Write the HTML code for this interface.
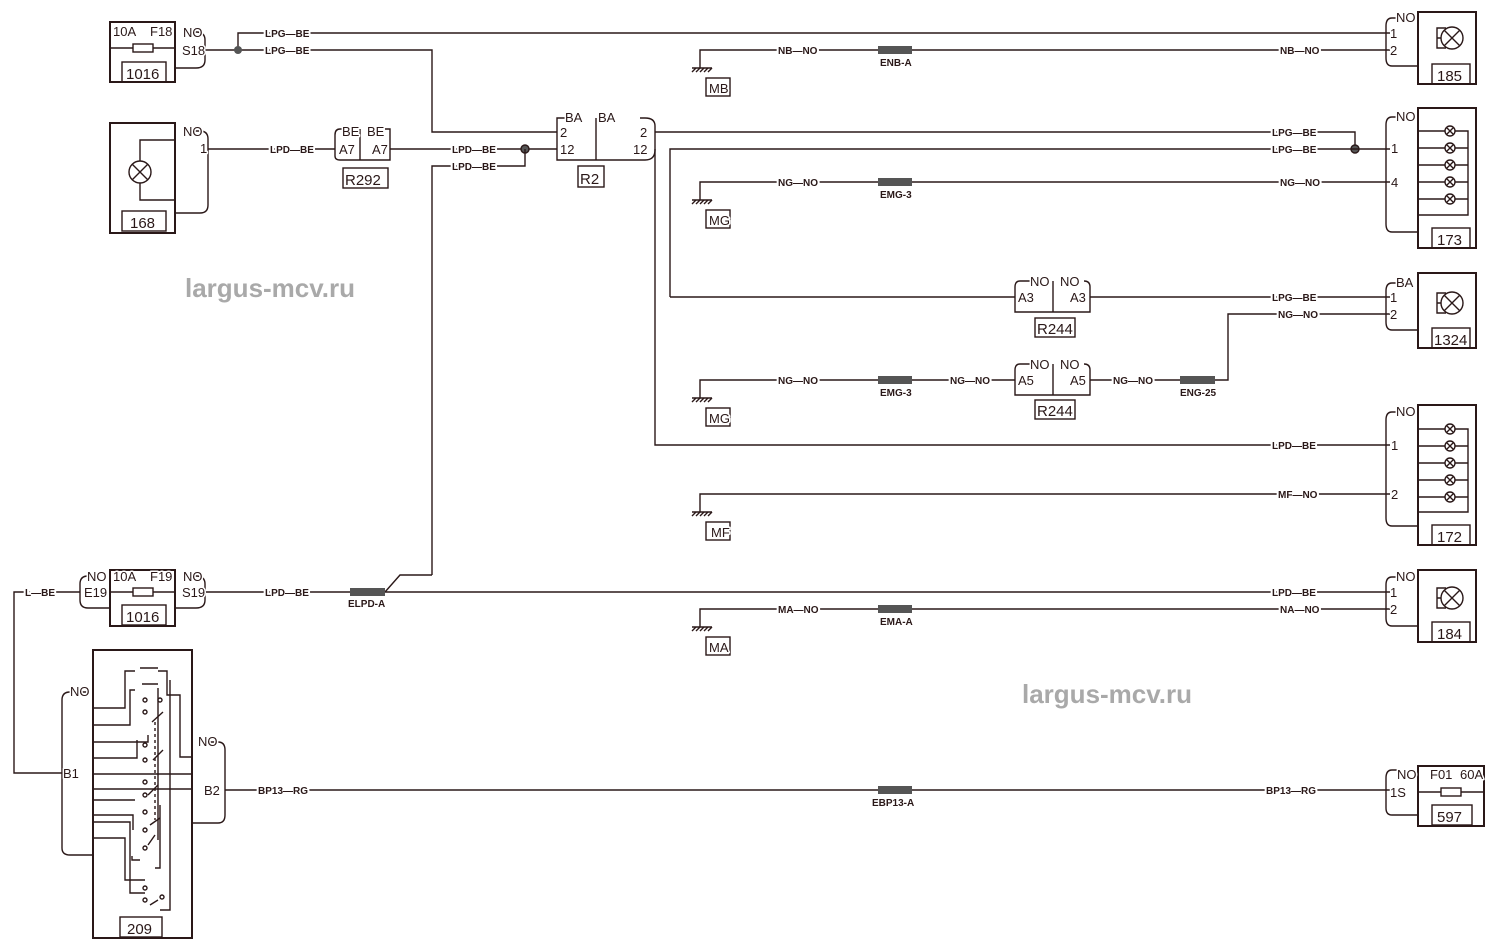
<!DOCTYPE html>
<html><head><meta charset="utf-8"><style>
html,body{margin:0;padding:0;background:#fff}
svg{display:block}
text{font-family:"Liberation Sans",sans-serif;fill:#2a1818}
.s{font-size:10px;font-weight:bold;paint-order:stroke;stroke:#fff;stroke-width:4px;stroke-linejoin:round}
.m{font-size:13px;paint-order:stroke;stroke:#fff;stroke-width:3px;stroke-linejoin:round}
.b{font-size:15px}
.w{font-size:26px;font-weight:bold;fill:#a9a9a9}
</style></head><body>
<svg width="1487" height="952" viewBox="0 0 1487 952" xmlns="http://www.w3.org/2000/svg">
<g fill="none" stroke="#2a1818" stroke-width="1.4">
<rect x="110" y="22" width="65" height="60" stroke-width="2"/>
<line x1="110" y1="48" x2="175" y2="48"/><rect x="133" y="44" width="20" height="8" fill="#fff"/>
<rect x="122" y="62" width="44" height="20"/>
<path d="M183 32 H196 Q205 32 205 40 V60 Q205 68 196 68 H175"/>
<path d="M205 50 H238 V33 H1390"/>
<path d="M238 50 H432 V132 H557"/>
<path d="M1400 18 H1392 Q1386 18 1386 26 V58 Q1386 66 1392 66 H1418"/>
<rect x="1418" y="12" width="58" height="72" stroke-width="2"/>
<rect x="1432" y="64" width="38" height="20"/>
<circle cx="1452" cy="38" r="11"/><path d="M1444 30 L1460 46 M1460 30 L1444 46"/>
<path d="M1441 38 H1437 V28 H1446 M1437 38 V48 H1446"/>
<path d="M708 50 H1390"/>
<rect x="110" y="123" width="65" height="110" stroke-width="2"/>
<rect x="122" y="211" width="44" height="20"/>
<circle cx="140" cy="172" r="11"/><path d="M132 164 L148 180 M148 164 L132 180"/>
<path d="M140 161 V140 H175 M140 183 V200 H175"/>
<path d="M183 131 H200 Q208 131 208 139 V205 Q208 213 200 213 H175"/>
<path d="M208 149 H335"/>
<path d="M345 129 H340 Q335 129 335 135 V156 Q335 160 340 160 H390 V129 H385"/>
<line x1="360" y1="129" x2="360" y2="160"/>
<rect x="343" y="168" width="45" height="20"/>
<path d="M390 149 H557"/>
<circle cx="525" cy="149" r="4" fill="#555"/>
<path d="M432 575 V166 H525 V149"/>
<path d="M566 118 H557 V160 H645 Q655 160 655 150 V126 Q655 118 645 118 H640"/>
<line x1="596" y1="118" x2="596" y2="160"/>
<rect x="578" y="166" width="26" height="21"/>
<path d="M655 132 H1355 V149"/>
<circle cx="1355" cy="149" r="4" fill="#555"/>
<path d="M670 297 V149 H1390"/>
<path d="M655 149 V445 H1390"/>
<path d="M1400 117 H1392 Q1386 117 1386 125 V224 Q1386 232 1392 232 H1418"/>
<rect x="1418" y="108" width="58" height="140" stroke-width="2"/>
<rect x="1432" y="228" width="38" height="20"/>
<path d="M1418 131 H1468 V215 H1418 M1418 148 H1468 M1418 165 H1468 M1418 182 H1468 M1418 199 H1468"/>
<g fill="#fff"><circle cx="1450" cy="131" r="5"/><circle cx="1450" cy="148" r="5"/><circle cx="1450" cy="165" r="5"/><circle cx="1450" cy="182" r="5"/><circle cx="1450" cy="199" r="5"/></g>
<path d="M1447 128l6 6m0-6l-6 6M1447 145l6 6m0-6l-6 6M1447 162l6 6m0-6l-6 6M1447 179l6 6m0-6l-6 6M1447 196l6 6m0-6l-6 6"/>
<path d="M708 182 H1390"/>
<path d="M670 297 H1015"/>
<path d="M1030 281 H1020 Q1015 281 1015 287 V312 H1090 V287 Q1090 281 1084 281"/>
<line x1="1053" y1="281" x2="1053" y2="312"/>
<rect x="1035" y="318" width="40" height="19"/>
<path d="M1090 297 H1390"/>
<path d="M1215 380 H1228 V314 H1390"/>
<path d="M1400 283 H1392 Q1386 283 1386 291 V322 Q1386 330 1392 330 H1418"/>
<rect x="1418" y="273" width="58" height="75" stroke-width="2"/>
<rect x="1432" y="328" width="38" height="20"/>
<circle cx="1452" cy="303" r="11"/><path d="M1444 295 L1460 311 M1460 295 L1444 311"/>
<path d="M1441 303 H1437 V293 H1446 M1437 303 V313 H1446"/>
<path d="M708 380 H1015"/>
<path d="M1030 364 H1020 Q1015 364 1015 370 V395 H1090 V370 Q1090 364 1084 364"/>
<line x1="1053" y1="364" x2="1053" y2="395"/>
<rect x="1035" y="400" width="40" height="19"/>
<path d="M1090 380 H1180"/>
<path d="M1400 412 H1392 Q1386 412 1386 420 V518 Q1386 526 1392 526 H1418"/>
<rect x="1418" y="405" width="58" height="140" stroke-width="2"/>
<rect x="1432" y="525" width="38" height="20"/>
<path d="M1418 429 H1468 V512 H1418 M1418 446 H1468 M1418 463 H1468 M1418 480 H1468 M1418 497 H1468"/>
<g fill="#fff"><circle cx="1450" cy="429" r="5"/><circle cx="1450" cy="446" r="5"/><circle cx="1450" cy="463" r="5"/><circle cx="1450" cy="480" r="5"/><circle cx="1450" cy="497" r="5"/></g>
<path d="M1447 426l6 6m0-6l-6 6M1447 443l6 6m0-6l-6 6M1447 460l6 6m0-6l-6 6M1447 477l6 6m0-6l-6 6M1447 494l6 6m0-6l-6 6"/>
<path d="M708 494 H1390"/>
<rect x="110" y="570" width="65" height="56" stroke-width="2"/>
<line x1="110" y1="592" x2="175" y2="592"/><rect x="133" y="588" width="20" height="8" fill="#fff"/>
<rect x="122" y="605" width="44" height="20"/>
<path d="M183 576 H196 Q205 576 205 584 V600 Q205 608 196 608 H175"/>
<path d="M92 576 H88 Q80 576 80 584 V600 Q80 608 88 608 H110"/>
<path d="M205 592 H1390"/>
<path d="M385 592 L400 575 H432"/>
<path d="M80 592 H14 V773 H65"/>
<path d="M1400 577 H1392 Q1386 577 1386 585 V618 Q1386 626 1392 626 H1418"/>
<rect x="1418" y="570" width="58" height="72" stroke-width="2"/>
<rect x="1432" y="622" width="38" height="20"/>
<circle cx="1452" cy="598" r="11"/><path d="M1444 590 L1460 606 M1460 590 L1444 606"/>
<path d="M1441 598 H1437 V588 H1446 M1437 598 V608 H1446"/>
<path d="M708 609 H1390"/>
<rect x="93" y="650" width="99" height="288" stroke-width="2"/>
<rect x="120" y="917" width="42" height="20"/>
<path d="M88 692 H70 Q62 692 62 700 V848 Q62 855 70 855 H93"/>
<path d="M200 742 H218 Q225 742 225 750 V815 Q225 823 218 823 H192"/>
<path d="M225 790 H1390"/>
<path d="M93 708 H125 V671 H135 M158 671 H167 V695 H180 V757 H192 M93 725 H130 V690 H135 M93 742 H148 V735 M93 758 H137 V740 M93 774 H192 M93 789 H192 M93 800 H135 M93 815 H133 V830 M93 822 H130 V893 H145 M93 838 H125 V880 H145 M140 860 H132 V856 M158 688 V840 M170 680 V910 H160 M160 805 V868 H155"/>
<path d="M158 900 L150 905 M155 835 L148 845 M160 818 L150 825 M158 785 L148 795 M163 750 L153 760 M163 712 L152 722" />
<path d="M155 722 V820" stroke-dasharray="3 3"/>
<g fill="#fff"><circle cx="145" cy="700" r="2"/><circle cx="160" cy="700" r="2"/><circle cx="145" cy="712" r="2"/><circle cx="145" cy="745" r="2"/><circle cx="145" cy="760" r="2"/><circle cx="145" cy="782" r="2"/><circle cx="145" cy="795" r="2"/><circle cx="145" cy="812" r="2"/><circle cx="145" cy="830" r="2"/><circle cx="145" cy="848" r="2"/><circle cx="145" cy="888" r="2"/><circle cx="145" cy="900" r="2"/><circle cx="162" cy="897" r="2"/></g>
<path d="M140 668 H158 M142 684 H158"/>
<path d="M1400 770 H1392 Q1386 770 1386 778 V808 Q1386 815 1392 815 H1418"/>
<rect x="1418" y="766" width="66" height="60" stroke-width="2"/>
<line x1="1418" y1="792" x2="1484" y2="792"/><rect x="1441" y="788" width="20" height="8" fill="#fff"/>
<rect x="1432" y="805" width="40" height="20"/>
<path d="M708 50 H700 V68 M692 68 H712 M708 182 H700 V200 M692 200 H712 M708 380 H700 V398 M692 398 H712 M708 494 H700 V512 M692 512 H712 M708 609 H700 V627 M692 627 H712"/>
<path d="M692 72l4-4m0 4l4-4m0 4l4-4m0 4l4-4m0 4l4-4M692 204l4-4m0 4l4-4m0 4l4-4m0 4l4-4m0 4l4-4M692 402l4-4m0 4l4-4m0 4l4-4m0 4l4-4m0 4l4-4M692 516l4-4m0 4l4-4m0 4l4-4m0 4l4-4m0 4l4-4M692 631l4-4m0 4l4-4m0 4l4-4m0 4l4-4m0 4l4-4"/>
<rect x="706" y="78" width="24" height="18"/><rect x="706" y="210" width="24" height="18"/><rect x="706" y="408" width="24" height="18"/><rect x="706" y="522" width="24" height="18"/><rect x="706" y="637" width="24" height="18"/>
</g>
<g fill="#555"><rect x="878" y="46" width="34" height="8"/><rect x="878" y="178" width="34" height="8"/><rect x="878" y="376" width="34" height="8"/><rect x="1180" y="376" width="35" height="8"/><rect x="350" y="588" width="35" height="8"/><rect x="878" y="605" width="34" height="8"/><rect x="878" y="786" width="34" height="8"/></g>
<circle cx="238" cy="50" r="4" fill="#555"/>
<g class="s">
<text x="265" y="37">LPG—BE</text><text x="265" y="54">LPG—BE</text>
<text x="778" y="54">NB—NO</text><text x="1280" y="54">NB—NO</text><text x="880" y="66">ENB-A</text>
<text x="270" y="153">LPD—BE</text><text x="452" y="153">LPD—BE</text><text x="452" y="170">LPD—BE</text>
<text x="1272" y="136">LPG—BE</text><text x="1272" y="153">LPG—BE</text>
<text x="778" y="186">NG—NO</text><text x="1280" y="186">NG—NO</text><text x="880" y="198">EMG-3</text>
<text x="1272" y="301">LPG—BE</text><text x="1278" y="318">NG—NO</text>
<text x="778" y="384">NG—NO</text><text x="880" y="396">EMG-3</text><text x="950" y="384">NG—NO</text><text x="1113" y="384">NG—NO</text><text x="1180" y="396">ENG-25</text>
<text x="1272" y="449">LPD—BE</text><text x="1278" y="498">MF—NO</text>
<text x="25" y="596">L—BE</text><text x="265" y="596">LPD—BE</text><text x="348" y="607">ELPD-A</text><text x="1272" y="596">LPD—BE</text>
<text x="778" y="613">MA—NO</text><text x="1280" y="613">NA—NO</text><text x="880" y="625">EMA-A</text>
<text x="258" y="794">BP13—RG</text><text x="1266" y="794">BP13—RG</text><text x="872" y="806">EBP13-A</text>
</g>
<g class="m">
<text x="113" y="36">10A</text><text x="150" y="36">F18</text><text x="183" y="37">NO</text><text x="182" y="55">S18</text>
<text x="183" y="136">NO</text><text x="200" y="153">1</text>
<text x="342" y="136">BE</text><text x="367" y="136">BE</text><text x="339" y="154">A7</text><text x="372" y="154">A7</text>
<text x="565" y="122">BA</text><text x="598" y="122">BA</text><text x="560" y="137">2</text><text x="560" y="154">12</text><text x="640" y="137">2</text><text x="633" y="154">12</text>
<text x="1396" y="22">NO</text><text x="1390" y="38">1</text><text x="1390" y="55">2</text>
<text x="1396" y="121">NO</text><text x="1391" y="153">1</text><text x="1391" y="187">4</text>
<text x="1030" y="286">NO</text><text x="1060" y="286">NO</text><text x="1018" y="302">A3</text><text x="1070" y="302">A3</text>
<text x="1396" y="287">BA</text><text x="1390" y="302">1</text><text x="1390" y="319">2</text>
<text x="1030" y="369">NO</text><text x="1060" y="369">NO</text><text x="1018" y="385">A5</text><text x="1070" y="385">A5</text>
<text x="1396" y="416">NO</text><text x="1391" y="450">1</text><text x="1391" y="499">2</text>
<text x="87" y="581">NO</text><text x="84" y="597">E19</text><text x="113" y="581">10A</text><text x="150" y="581">F19</text><text x="183" y="581">NO</text><text x="182" y="597">S19</text>
<text x="1396" y="581">NO</text><text x="1390" y="597">1</text><text x="1390" y="614">2</text>
<text x="70" y="696">NO</text><text x="63" y="778">B1</text><text x="198" y="746">NO</text><text x="204" y="795">B2</text>
<text x="1397" y="779">NO</text><text x="1390" y="797">1S</text><text x="1430" y="779">F01</text><text x="1460" y="779">60A</text>
<text x="709" y="93">MB</text><text x="709" y="225">MG</text><text x="709" y="423">MG</text><text x="711" y="537">MF</text><text x="709" y="652">MA</text>
</g>
<g class="b">
<text x="126" y="79">1016</text><text x="130" y="228">168</text><text x="345" y="185">R292</text><text x="580" y="184">R2</text>
<text x="1437" y="81">185</text><text x="1437" y="245">173</text><text x="1037" y="334">R244</text><text x="1434" y="345">1324</text>
<text x="1037" y="416">R244</text><text x="1437" y="542">172</text><text x="126" y="622">1016</text><text x="1437" y="639">184</text>
<text x="127" y="934">209</text><text x="1437" y="822">597</text>
</g>
<text class="w" x="185" y="297">largus-mcv.ru</text>
<text class="w" x="1022" y="703">largus-mcv.ru</text>
</svg>
</body></html>
